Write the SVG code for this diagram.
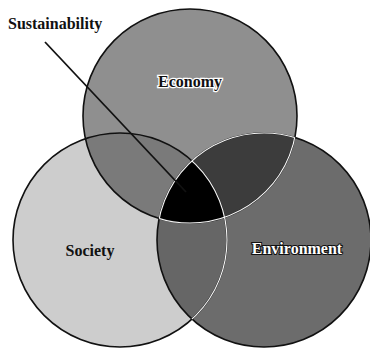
<svg xmlns="http://www.w3.org/2000/svg" width="370" height="348" viewBox="0 0 370 348">
  <style>
    .ring { fill: none; stroke: #111; stroke-width: 1.6; }
    .inner { fill: none; stroke: #f4f4f4; stroke-width: 1.2; }
    .lbl { font-family: "Liberation Serif", "DejaVu Serif", serif; font-weight: bold; font-size: 16px; }
    .halo { paint-order: stroke; stroke: #fff; stroke-width: 2.5; fill: #111; }
    .rev { paint-order: stroke; stroke: #111; stroke-width: 2; fill: #fff; }
  </style>
  <defs>
    <circle id="cE" cx="190" cy="116" r="107"/>
    <circle id="cS" cx="120" cy="240" r="107"/>
    <circle id="cV" cx="264" cy="240" r="107"/>
    <clipPath id="clipE"><use href="#cE"/></clipPath>
    <clipPath id="clipS"><use href="#cS"/></clipPath>
    <clipPath id="clipV"><use href="#cV"/></clipPath>
  </defs>
  <rect width="370" height="348" fill="#fff"/>

  <g id="society">
    <use href="#cS" fill="#cdcdcd"/>
  </g>
  <g id="economy">
    <use href="#cE" fill="#8f8f8f"/>
  </g>
  <g id="environment">
    <use href="#cV" fill="#6c6c6c"/>
  </g>

  <g id="overlaps">
    <g clip-path="url(#clipE)"><use href="#cS" fill="#7a7a7a"/></g>
    <g clip-path="url(#clipE)"><use href="#cV" fill="#3c3c3c"/></g>
    <g clip-path="url(#clipS)"><use href="#cV" fill="#666"/></g>
    <g clip-path="url(#clipS)"><g clip-path="url(#clipE)"><use href="#cV" fill="#000"/></g></g>
  </g>

  <g id="outlines">
    <use href="#cE" class="ring"/>
    <use href="#cS" class="ring"/>
    <use href="#cV" class="ring"/>
    <g clip-path="url(#clipE)"><use href="#cV" class="inner"/></g>
    <g clip-path="url(#clipV)"><use href="#cE" class="inner"/></g>
    <g clip-path="url(#clipV)"><use href="#cS" class="inner"/></g>
  </g>

  <g id="connectors">
    <line x1="45" y1="42" x2="186" y2="192" stroke="#111" stroke-width="1.8"/>
  </g>

  <g id="labels">
    <text class="lbl halo" x="190" y="87" text-anchor="middle">Economy</text>
    <text class="lbl" x="90" y="256" text-anchor="middle" fill="#111">Society</text>
    <text class="lbl rev" x="297" y="254" text-anchor="middle">Environment</text>
  </g>

  <g id="sustainability">
    <text class="lbl" x="8" y="29" font-size="15" fill="#111">Sustainability</text>
  </g>
</svg>
